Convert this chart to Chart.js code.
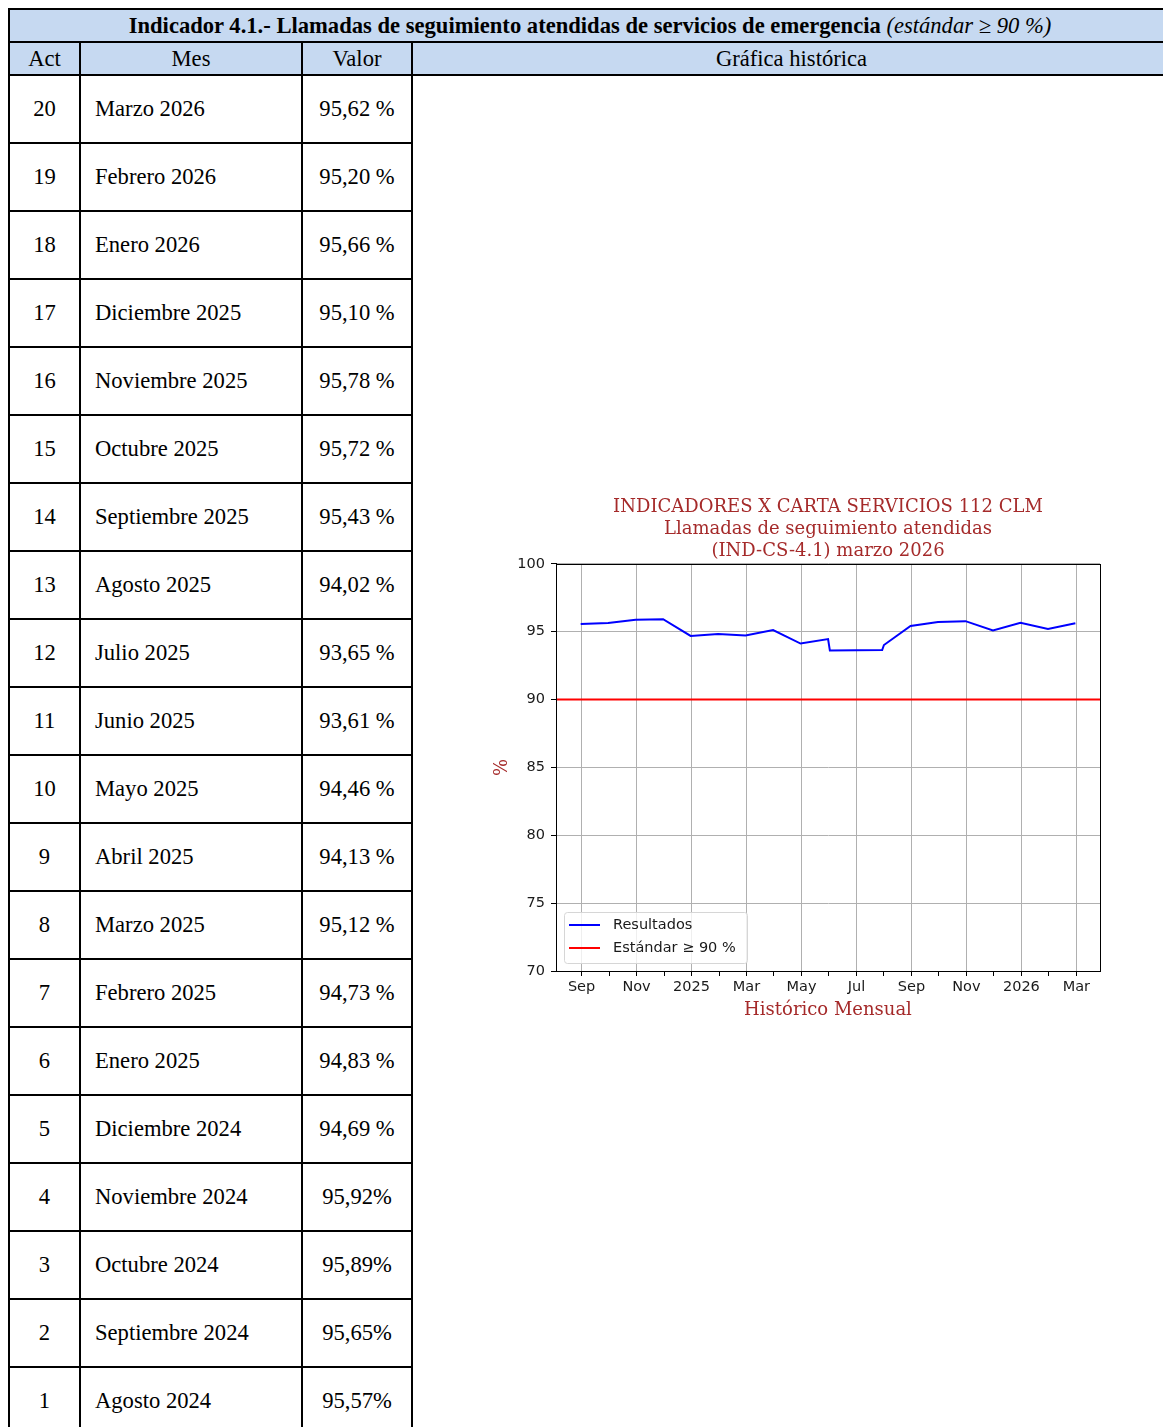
<!DOCTYPE html>
<html lang="es">
<head>
<meta charset="utf-8">
<title>Indicador 4.1 - Llamadas de seguimiento atendidas</title>
<script src="https://cdn.jsdelivr.net/npm/chart.js@4.4.1/dist/chart.umd.min.js"></script>
<style>
  body { margin: 0; background: #fff; width: 1163px; height: 1427px; overflow: hidden; position: relative; }
  table {
    position: absolute; left: 8px; top: 8px; width: 1164px;
    border-collapse: collapse; table-layout: fixed;
    font-family: "Liberation Serif", serif; font-size: 22.6px; color: #000;
  }
  td, th { border: 2px solid #000; padding: 0; }
  th { background: #c6d9f1; font-weight: normal; height: 31px; }
  th.titulo { font-weight: bold; }
  th.titulo i { font-weight: normal; }
  td { height: 66px; text-align: center; vertical-align: middle; }
  td.mes { text-align: left; padding-left: 14px; }
  td.grafica { border-bottom: none; border-right: none; }
  #chartBox { position: absolute; left: 480px; top: 492px; width: 630px; height: 529px; }
</style>
</head>
<body>
<table id="tabla">
  <colgroup><col style="width:71px"><col style="width:222px"><col style="width:110px"><col></colgroup>
  <tr><th class="titulo" colspan="4">Indicador 4.1.- Llamadas de seguimiento atendidas de servicios de emergencia <i>(estándar ≥ 90 %)</i></th></tr>
  <tr><th>Act</th><th>Mes</th><th>Valor</th><th>Gráfica histórica</th></tr>
</table>
<div id="chartBox"><canvas id="historico" width="630" height="529"></canvas></div>

<script>
// table rows, newest first
const actos = [20, 19, 18, 17, 16, 15, 14, 13, 12, 11, 10, 9, 8, 7, 6, 5, 4, 3, 2, 1];
const meses = ["Marzo 2026", "Febrero 2026", "Enero 2026", "Diciembre 2025", "Noviembre 2025",
  "Octubre 2025", "Septiembre 2025", "Agosto 2025", "Julio 2025", "Junio 2025", "Mayo 2025",
  "Abril 2025", "Marzo 2025", "Febrero 2025", "Enero 2025", "Diciembre 2024", "Noviembre 2024",
  "Octubre 2024", "Septiembre 2024", "Agosto 2024"];
const valores = [95.62, 95.20, 95.66, 95.10, 95.78, 95.72, 95.43, 94.02, 93.65, 93.61, 94.46,
  94.13, 95.12, 94.73, 94.83, 94.69, 95.92, 95.89, 95.65, 95.57];
// date each value is plotted at in the historic chart
const fechas = ["2026-02-28", "2026-01-31", "2025-12-31", "2025-11-30", "2025-10-31",
  "2025-09-30", "2025-08-31", "2025-08-01", "2025-07-30", "2025-06-02", "2025-05-31",
  "2025-04-30", "2025-03-31", "2025-02-28", "2025-01-31", "2024-12-31", "2024-11-30",
  "2024-10-31", "2024-09-30", "2024-08-31"];
const estandar = 90;
const mesesEje = ["Jan", "Feb", "Mar", "Apr", "May", "Jun", "Jul", "Aug", "Sep", "Oct", "Nov", "Dec"];
const yTicks = [70, 75, 80, 85, 90, 95, 100];

// x axis is counted in months from January 2024
const xMin = 7.07, xMax = 26.86;
function aMeses(s) {
  const [y, m, d] = s.split("-").map(Number);
  const dias = new Date(y, m, 0).getDate();
  return (y - 2024) * 12 + (m - 1) + (d - 1) / dias;
}

// build table body
const tabla = document.getElementById("tabla");
actos.forEach((act, i) => {
  const tr = document.createElement("tr");
  // the four oldest rows were typed without the space before %
  const txt = valores[i].toFixed(2).replace(".", ",") + (act <= 4 ? "%" : " %");
  tr.innerHTML = `<td>${act}</td><td class="mes">${meses[i]}</td><td>${txt}</td>`;
  if (i === 0) tr.innerHTML += `<td class="grafica" rowspan="${actos.length}"></td>`;
  tabla.appendChild(tr);
});

const rojo = "#a52a2a";
const tickFont = { family: "DejaVu Sans", size: 14.5 };

const legendInside = {
  id: "legendInside",
  afterDatasetsDraw(chart) {
    const ctx = chart.ctx, area = chart.chartArea;
    const items = chart.data.datasets;
    const rowH = 23, w = 183, h = 5 + items.length * rowH;
    const x = area.left + 8, y = area.bottom - 8 - h;
    ctx.save();
    ctx.fillStyle = "rgba(255,255,255,0.8)";
    ctx.strokeStyle = "#d6d6d6";
    ctx.lineWidth = 1;
    ctx.beginPath();
    ctx.roundRect(x + 0.5, y + 0.5, w, h, 3);
    ctx.fill();
    ctx.stroke();
    ctx.font = '14.5px "DejaVu Sans"';
    ctx.textBaseline = "middle";
    items.forEach((ds, i) => {
      const cy = y + 13 + i * rowH;
      ctx.strokeStyle = ds.borderColor;
      ctx.lineWidth = 2;
      ctx.beginPath();
      ctx.moveTo(x + 5, cy);
      ctx.lineTo(x + 36, cy);
      ctx.stroke();
      ctx.fillStyle = "#1a1a1a";
      ctx.fillText(ds.label, x + 49, cy);
    });
    ctx.restore();
  }
};

const frame = {
  id: "frame",
  afterDraw(chart) {
    const { ctx, chartArea: a } = chart;
    ctx.save();
    ctx.strokeStyle = "#000";
    ctx.lineWidth = 1;
    ctx.strokeRect(Math.round(a.left) + 0.5, Math.round(a.top) + 0.5,
      Math.round(a.right - a.left), Math.round(a.bottom - a.top));
    ctx.restore();
  }
};

const serie = fechas.map((f, i) => ({ x: aMeses(f), y: valores[i] })).reverse();

new Chart(document.getElementById("historico"), {
  type: "line",
  data: {
    datasets: [{
      label: "Resultados",
      data: serie,
      borderColor: "#0000ff",
      borderWidth: 2,
      pointRadius: 0,
      tension: 0
    }, {
      label: "Estándar ≥ 90 %",
      data: [{ x: xMin, y: estandar }, { x: xMax, y: estandar }],
      borderColor: "#ff0000",
      borderWidth: 2,
      pointRadius: 0
    }]
  },
  options: {
    responsive: false,
    animation: false,
    devicePixelRatio: 1,
    layout: { padding: { left: 0, right: 10, top: 0, bottom: 0 } },
    plugins: {
      legend: { display: false },
      tooltip: { enabled: false },
      title: {
        display: true,
        fullSize: false,
        text: ["INDICADORES X CARTA SERVICIOS 112 CLM", "Llamadas de seguimiento atendidas", "(IND-CS-4.1) marzo 2026"],
        color: rojo,
        font: { family: "DejaVu Serif", size: 18, weight: "normal", lineHeight: 1.22 },
        padding: { top: 4, bottom: 2 }
      }
    },
    scales: {
      x: {
        type: "linear",
        min: xMin,
        max: xMax,
        grid: {
          color: c => (c.tick && c.tick.value % 2 === 0) ? "#b0b0b0" : "rgba(0,0,0,0)",
          tickColor: "#000",
          tickLength: 5
        },
        border: { display: true, color: "#000" },
        ticks: {
          stepSize: 1,
          includeBounds: false,
          autoSkip: false,
          maxRotation: 0,
          padding: 3,
          color: "#1a1a1a",
          font: tickFont,
          callback: v => {
            if (v % 2) return "";
            const m = v % 12;
            return m === 0 ? String(2024 + v / 12) : mesesEje[m];
          }
        },
        title: {
          display: true,
          text: "Histórico Mensual",
          color: rojo,
          font: { family: "DejaVu Serif", size: 18 },
          padding: { top: 0, bottom: 0 }
        }
      },
      y: {
        min: yTicks[0],
        max: yTicks[yTicks.length - 1],
        afterFit: s => { s.width = 76; },
        grid: { color: "#b0b0b0", tickColor: "#000", tickLength: 5 },
        border: { display: true, color: "#000" },
        ticks: {
          stepSize: 5,
          padding: 6,
          color: "#1a1a1a",
          font: tickFont
        },
        title: {
          display: true,
          text: "%",
          color: rojo,
          font: { family: "DejaVu Serif", size: 18 },
          padding: { top: 12, bottom: 1 }
        }
      }
    }
  },
  plugins: [legendInside, frame]
});
</script>
</body>
</html>
